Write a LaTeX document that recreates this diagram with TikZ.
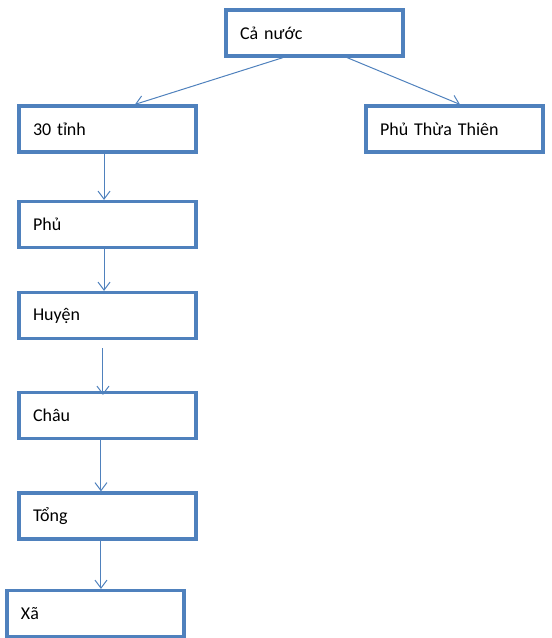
\documentclass[tikz,border=0pt]{standalone}
\usepackage{fontspec}
\setmainfont{Carlito}
\newfontfamily\chuphu[Scale=0.92]{Liberation Sans}
\usetikzlibrary{arrows.meta}

\definecolor{khung}{HTML}{4F81BD}

\begin{document}
\begin{tikzpicture}[x=0.75pt, y=-0.75pt, >={Straight Barb[length=6pt,width=9pt]},
    capbac/.style={draw=khung, line width=2.4pt, fill=white, minimum width=132.75pt,
        minimum height=34.5pt, text width=111.75pt, inner xsep=10.5pt, align=left,
        font=\fontsize{13.5pt}{15pt}\selectfont},
    noi/.style={draw=khung, line width=0.75pt, ->}]

    % Khung trang
    \useasboundingbox (0,0) rectangle (551,638);

    % Cac cap hanh chinh
    \node[capbac] (canuoc) at (314.5,33) {Cả nước};
    \node[capbac] (tinh) at (107.5,129) {30 t{\chuphu ỉ}nh};
    \node[capbac] (thuathien) at (454.5,129) {Phủ Thừa Thiên};
    \node[capbac] (phu) at (107.5,224.5) {Phủ};
    \node[capbac] (huyen) at (107.5,315.5) {Huyện};
    \node[capbac] (chau) at (107.5,415.5) {Châu};
    \node[capbac] (tong) at (107.5,516) {Tổng};
    \node[capbac] (xa) at (95.5,613.5) {Xã};

    % Mui ten tu ca nuoc
    \draw[noi] ([xshift=-23.6pt]canuoc.south) -- ([xshift=20.6pt]tinh.north);
    \draw[noi] ([xshift=24.4pt]canuoc.south) -- ([xshift=4.1pt]thuathien.north);

    % Mui ten theo cot ben trai
    \draw[noi] ([xshift=-2.6pt]tinh.south) -- ([xshift=-2.6pt]phu.north);
    \draw[noi] ([xshift=-2.6pt]phu.south) -- ([xshift=-2.6pt]huyen.north);
    \draw[noi] ([xshift=-3.4pt,yshift=-6pt]huyen.south) -- ([xshift=-3.4pt,yshift=-3pt]chau.north);
    \draw[noi] ([xshift=-4.9pt]chau.south) -- ([xshift=-4.9pt]tong.north);
    \draw[noi] ([xshift=-4.9pt]tong.south) -- ([xshift=4.1pt]xa.north);

\end{tikzpicture}
\end{document}
